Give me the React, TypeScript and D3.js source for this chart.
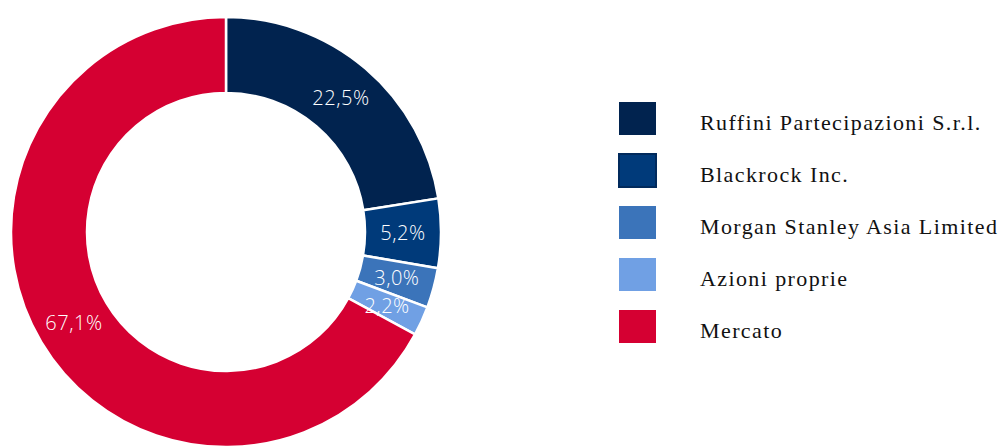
// @ts-nocheck
import { useRef, useEffect } from "react";
import * as d3 from "d3";

const holders = [
  "Ruffini Partecipazioni S.r.l.",
  "Blackrock Inc.",
  "Morgan Stanley Asia Limited",
  "Azioni proprie",
  "Mercato",
];
const shares = [22.5, 5.2, 3.0, 2.2, 67.1];
const colors = ["#01234f", "#003a7a", "#3b74ba", "#70a0e4", "#d50032"];

const fmt = (v) => v.toFixed(1).replace(".", ",") + "%";

const App = () => {
  const svgRef = useRef();

  useEffect(() => {
    const width = 1001;
    const height = 446;
    const svg = d3.select(svgRef.current);
    svg.selectAll("*").remove();
    svg.attr("width", width).attr("height", height);

    const cx = 226;
    const cy = 232;
    const outer = 215;
    const inner = 139;

    const data = holders.map((h, i) => ({ name: h, value: shares[i], color: colors[i] }));

    const pie = d3.pie().sort(null).value((d) => d.value);
    const arc = d3.arc().innerRadius(inner).outerRadius(outer);
    const arcs = pie(data);

    const g = svg.append("g").attr("transform", `translate(${cx},${cy})`);

    g.selectAll("path")
      .data(arcs)
      .enter()
      .append("path")
      .attr("d", arc)
      .attr("fill", (d) => d.data.color)
      .attr("stroke", "#fff")
      .attr("stroke-width", 2.5);

    g.selectAll("text")
      .data(arcs)
      .enter()
      .append("text")
      .attr("transform", (d) => `translate(${arc.centroid(d)})`)
      .attr("text-anchor", "middle")
      .attr("dy", "0.36em")
      .attr("fill", "#fff")
      .attr("font-family", "'Open Sans', sans-serif")
      .attr("font-weight", 300)
      .attr("font-size", 20)
      .attr("letter-spacing", 0.5)
      .text((d) => fmt(d.data.value));

    // legenda
    const legend = svg.append("g").attr("transform", "translate(619,102)");
    const step = 52;

    const item = legend
      .selectAll("g")
      .data(data)
      .enter()
      .append("g")
      .attr("transform", (d, i) => `translate(0,${i * step})`);

    item
      .append("rect")
      .attr("width", 37)
      .attr("height", 33)
      .attr("fill", (d) => d.color)
      .attr("stroke", (d, i) => (i === 1 ? "#012a5c" : "none"))
      .attr("stroke-width", 2);

    item
      .append("text")
      .attr("x", 81)
      .attr("y", 28)
      .attr("fill", "#111")
      .attr("font-family", "'Liberation Serif', serif")
      .attr("font-size", 22)
      .attr("letter-spacing", 1.4)
      .text((d) => d.name);
  }, []);

  return <svg ref={svgRef} style={{ position: "absolute", left: 0, top: 0 }}></svg>;
};

export default App;
